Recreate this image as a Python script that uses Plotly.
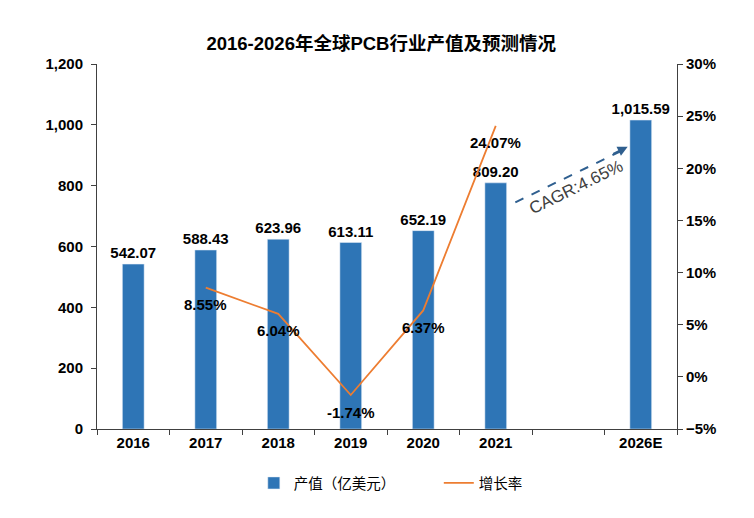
import plotly.graph_objects as go

years = ["2016", "2017", "2018", "2019", "2020", "2021", " ", "2026E"]
output_value = [542.07, 588.43, 623.96, 613.11, 652.19, 809.20, None, 1015.59]
growth_rate = [None, 8.55, 6.04, -1.74, 6.37, 24.07, None, None]
cagr_text = "CAGR:4.65%"

FONT = "Liberation Sans, Noto Sans CJK SC, Arial, sans-serif"
BLUE = "#2E75B6"
ORANGE = "#ED7D31"
LABEL_FONT = dict(size=15, color="black", family=FONT, weight="bold")

fig = go.Figure()
fig.add_trace(go.Bar(
    x=years, y=output_value, name="产值（亿美元）",
    marker_color=BLUE, width=0.3,
    text=[None if v is None else f"{v:,.2f}" for v in output_value],
    textposition="outside", cliponaxis=False, constraintext="none",
    textfont=LABEL_FONT,
))
fig.add_trace(go.Scatter(
    x=years, y=growth_rate, name="增长率", yaxis="y2",
    mode="lines", line=dict(color=ORANGE, width=1.8),
))
for i, g in enumerate(growth_rate):
    if g is None:
        continue
    fig.add_annotation(x=i, y=g, xref="x", yref="y2", text=f"{g:.2f}%",
                       showarrow=False, yshift=-17, font=LABEL_FONT)

# CAGR dashed arrow
fig.add_shape(type="line", xref="x", yref="y", x0=5.27, y0=745, x1=6.78, y1=920,
              line=dict(color="#2F5F8F", width=2, dash="dash"))
fig.add_annotation(x=6.82, y=928, ax=6.6, ay=902, xref="x", yref="y", axref="x", ayref="y",
                   text="", showarrow=True, arrowhead=2, arrowsize=1, arrowwidth=2,
                   arrowcolor="#2F5F8F")
fig.add_annotation(x=6.1, y=795, xref="x", yref="y", text=cagr_text, showarrow=False,
                   textangle=-26, font=dict(size=17, color="#404040", family=FONT))

fig.update_layout(
    width=754, height=518,
    margin=dict(l=89, r=85, t=56, b=97),
    paper_bgcolor="white", plot_bgcolor="white",
    title=dict(text="2016-2026年全球PCB行业产值及预测情况", x=0.495, xanchor="center",
               y=0.932, yanchor="middle",
               font=dict(size=18.5, color="black", family=FONT, weight="bold")),
    font=dict(family=FONT, color="black"),
    showlegend=True,
    legend=dict(orientation="h", xref="container", x=0.326, xanchor="left",
                yref="container", y=0.083, yanchor="middle",
                font=dict(size=14.5, family=FONT, color="black"), itemwidth=30,
                entrywidth=140),
    xaxis=dict(type="category", tickson="boundaries", ticks="outside", ticklen=5,
               tickcolor="#404040", showline=True, linecolor="#404040", linewidth=1,
               showgrid=False, tickfont=dict(size=15, family=FONT, weight="bold"),
               range=[-0.5, 7.5]),
    yaxis=dict(range=[0, 1200], dtick=200, tickformat=",d", ticks="outside", ticklen=5,
               tickcolor="#404040", showline=True, linecolor="#404040", linewidth=1,
               showgrid=False, zeroline=False, ticklabelstandoff=5,
               tickfont=dict(size=15, family=FONT, weight="bold")),
    yaxis2=dict(range=[-5, 30], dtick=5, ticksuffix="%", overlaying="y", side="right",
                ticks="outside", ticklen=5, tickcolor="#404040", showline=True,
                linecolor="#404040", linewidth=1, showgrid=False, zeroline=False,
                tickfont=dict(size=15, family=FONT, weight="bold")),
    bargap=0.7,
)

fig.write_html("out.html")
